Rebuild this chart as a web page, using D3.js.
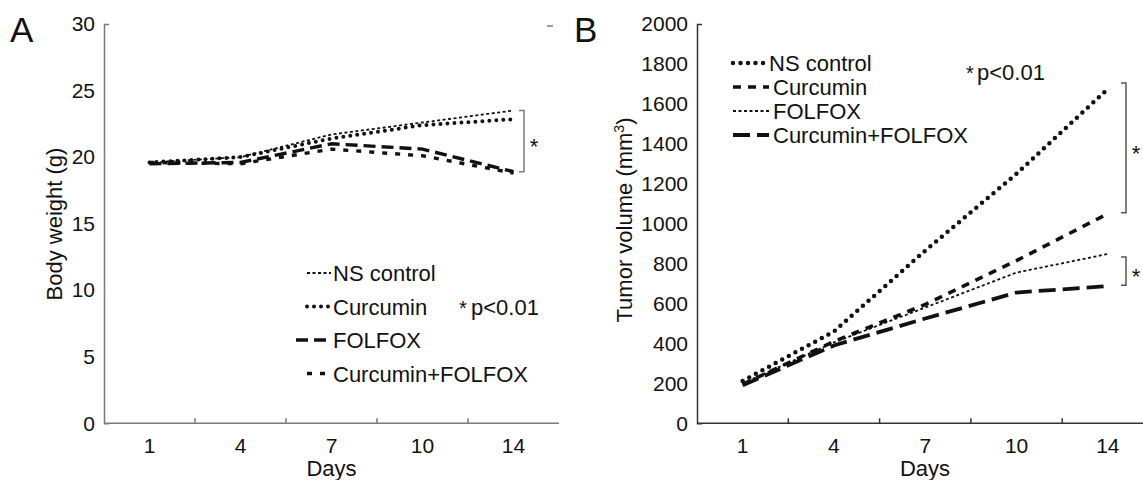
<!DOCTYPE html>
<html>
<head>
<meta charset="utf-8">
<script src="https://cdn.jsdelivr.net/npm/d3@7"></script>
<style>
  body { margin: 0; background: #fff; }
  text { font-family: 'Liberation Sans', Arial, sans-serif; fill: #111; }
</style>
</head>
<body>
<div id="graphics"></div>
<script>
// days on x axis
const days = ['1', '4', '7', '10', '14'];

// panel A: body weight (g)
const weightNS = [19.6, 20.0, 21.7, 22.6, 23.5];
const weightCur = [19.6, 20.0, 21.4, 22.4, 22.85];
const weightFolfox = [19.5, 19.6, 21.0, 20.6, 18.9];
const weightCombo = [19.6, 19.5, 20.6, 20.1, 18.8];

// panel B: tumor volume (mm3)
const volNS = [212, 460, 865, 1250, 1675];
const volCur = [195, 410, 595, 815, 1050];
const volFolfox = [200, 405, 580, 755, 848];
const volCombo = [190, 390, 525, 655, 687];

const weightTicks = [0, 5, 10, 15, 20, 25, 30];
const volTicks = [0, 200, 400, 600, 800, 1000, 1200, 1400, 1600, 1800, 2000];

const svg = d3.select('#graphics')
  .append('svg')
  .attr('width', 1143)
  .attr('height', 480);

// shared bottom/top
const yBottom = 423.3;
const yTop = 24;

function drawPanel(opts) {
  const g = svg.append('g');
  const x = d3.scaleBand().domain(days).range([opts.left, opts.left + 5 * opts.step]).padding(0);
  const y = d3.scaleLinear().domain(opts.domain).range([yBottom, yTop]);

  // y axis
  const yAxis = g.append('g')
    .attr('transform', 'translate(' + opts.left + ',0)')
    .call(d3.axisLeft(y).tickValues(opts.ticks).tickFormat(d3.format('d'))
      .tickSizeInner(0).tickSizeOuter(-5).tickPadding(9));
  yAxis.selectAll('path').attr('stroke', opts.axisColor).attr('stroke-width', 1.5);
  yAxis.selectAll('text').attr('font-size', 21).attr('font-family', "'Liberation Sans', Arial, sans-serif").attr('fill', '#111');

  // x axis labels
  const xAxis = g.append('g')
    .attr('transform', 'translate(0,' + yBottom + ')')
    .call(d3.axisBottom(x).tickSize(0).tickPadding(15));
  xAxis.select('path').remove();
  xAxis.selectAll('text').attr('font-size', 21).attr('font-family', "'Liberation Sans', Arial, sans-serif").attr('fill', '#111');
  g.append('line')
    .attr('x1', x.range()[0]).attr('x2', x.range()[1])
    .attr('y1', yBottom).attr('y2', yBottom)
    .attr('stroke', opts.axisColor).attr('stroke-width', 1.5);
  // tick marks between bands
  g.selectAll('.btick')
    .data(days.slice(0, -1))
    .enter().append('line')
    .attr('x1', (d) => x(d) + x.bandwidth())
    .attr('x2', (d) => x(d) + x.bandwidth())
    .attr('y1', yBottom).attr('y2', yBottom - 5)
    .attr('stroke', opts.axisColor).attr('stroke-width', 1.5);

  const line = d3.line()
    .x((d, i) => x(days[i]) + x.bandwidth() / 2)
    .y((d) => y(d));

  opts.series.forEach((s) => {
    g.append('path')
      .datum(s.values)
      .attr('d', line)
      .attr('fill', 'none')
      .attr('stroke', '#111')
      .attr('stroke-width', s.width)
      .attr('stroke-dasharray', s.dash)
      .attr('stroke-linecap', s.cap || 'butt');
  });

  // legend
  opts.series.forEach((s, i) => {
    const ly = opts.legend.y + i * opts.legend.gap;
    g.append('line')
      .attr('x1', s.lx1 !== undefined ? s.lx1 : opts.legend.x1)
      .attr('x2', opts.legend.x2)
      .attr('y1', ly).attr('y2', ly)
      .attr('stroke', '#111')
      .attr('stroke-width', s.width)
      .attr('stroke-dasharray', s.dash)
      .attr('stroke-linecap', s.cap || 'butt');
    g.append('text')
      .attr('x', s.tx !== undefined ? s.tx : opts.legend.tx)
      .attr('y', ly + 8)
      .attr('font-size', 22)
      .text(s.name);
  });

  return { g, x, y };
}

// ---------- panel A ----------
const A = drawPanel({
  left: 104, step: 91, domain: [0, 30], ticks: weightTicks, axisColor: '#7a7a7a',
  legend: { x1: 307, x2: 331, tx: 333, y: 273, gap: 33.5 },
  series: [
    { name: 'NS control', values: weightNS, width: 1.8, dash: '3,2.5' },
    { name: 'Curcumin', values: weightCur, width: 4, dash: '0,7', cap: 'round' },
    { name: 'FOLFOX', values: weightFolfox, width: 3.4, dash: '12,6', lx1: 296 },
    { name: 'Curcumin+FOLFOX', values: weightCombo, width: 3.4, dash: '5,8' }
  ]
});

// ---------- panel B ----------
const B = drawPanel({
  left: 697, step: 91.3, domain: [0, 2000], ticks: volTicks, axisColor: '#333',
  legend: { x1: 733, x2: 769, tx: 773, y: 63, gap: 24 },
  series: [
    { name: 'NS control', values: volNS, width: 4.5, dash: '0,7.5', cap: 'round', tx: 769 },
    { name: 'Curcumin', values: volCur, width: 3.6, dash: '8,7' },
    { name: 'FOLFOX', values: volFolfox, width: 1.8, dash: '3,2.5' },
    { name: 'Curcumin+FOLFOX', values: volCombo, width: 3.8, dash: '17,7' }
  ]
});

// axis titles
svg.append('text')
  .attr('transform', 'translate(62,224) rotate(-90)')
  .attr('text-anchor', 'middle').attr('font-size', 22)
  .text('Body weight (g)');
const tB = svg.append('text')
  .attr('transform', 'translate(632,220) rotate(-90)')
  .attr('text-anchor', 'middle').attr('font-size', 22);
tB.append('tspan').text('Tumor volume (mm');
tB.append('tspan').attr('font-size', 14).attr('dy', -8).text('3');
tB.append('tspan').attr('dy', 8).text(')');

svg.append('text').attr('x', 331.5).attr('y', 476).attr('text-anchor', 'middle').attr('font-size', 22).text('Days');
svg.append('text').attr('x', 925).attr('y', 476).attr('text-anchor', 'middle').attr('font-size', 22).text('Days');

// panel letters
svg.append('text').attr('x', 10).attr('y', 42).attr('font-size', 35).text('A');
svg.append('text').attr('x', 574).attr('y', 42).attr('font-size', 35).text('B');

// p-value notes
function pNote(xs, xp, base) {
  svg.append('text').attr('x', xs).attr('y', base).attr('font-size', 20).text('*');
  svg.append('text').attr('x', xp).attr('y', base).attr('font-size', 22).text('p<0.01');
}
pNote(459, 471, 315);
pNote(966, 977, 80);

// significance brackets
function bracket(xb, y1, y2, color) {
  svg.append('path')
    .attr('d', 'M' + (xb - 5) + ',' + y1 + 'H' + xb + 'V' + y2 + 'H' + (xb - 5))
    .attr('fill', 'none').attr('stroke', color).attr('stroke-width', 1.5);
  svg.append('text')
    .attr('x', xb + 10).attr('y', (y1 + y2) / 2 + 13)
    .attr('text-anchor', 'middle').attr('font-size', 22).text('*');
}
bracket(524, A.y(weightNS[4]), A.y(weightFolfox[4]), '#7a7a7a');
bracket(1126, B.y(volNS[4]) - 6, B.y(volCur[4]) - 1, '#555');
bracket(1126, B.y(volFolfox[4]) + 3, B.y(volCombo[4]) - 1, '#555');

// small stray mark at top right of panel A
svg.append('line').attr('x1', 547).attr('x2', 553).attr('y1', 26).attr('y2', 26)
  .attr('stroke', '#7a7a7a').attr('stroke-width', 1.5);
</script>
</body>
</html>
